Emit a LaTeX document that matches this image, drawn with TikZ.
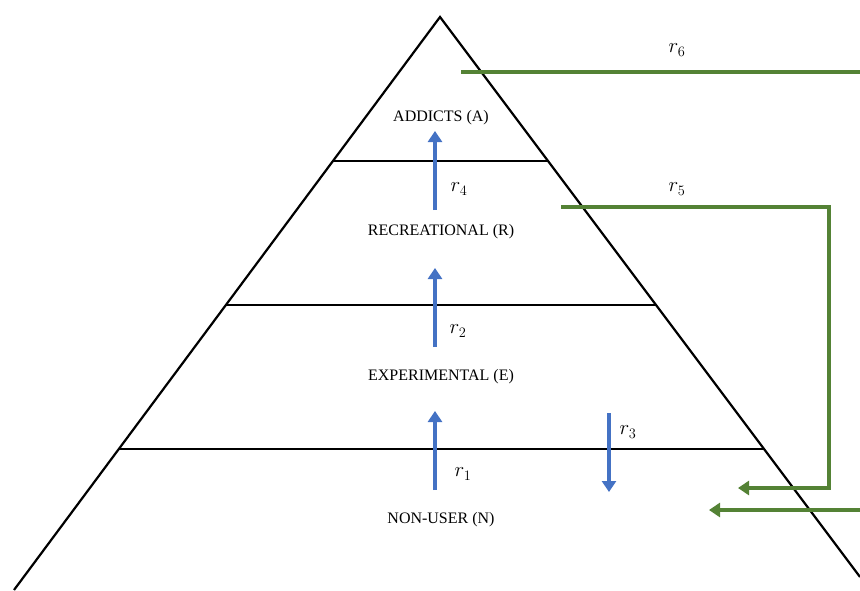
\documentclass[tikz,border=0pt]{standalone}
\usepackage{fontspec}
\setmainfont{Liberation Serif}
\usetikzlibrary{arrows.meta,calc}
\definecolor{flowblue}{HTML}{4472C4}
\definecolor{flowgreen}{HTML}{548235}

\begin{document}
\begin{tikzpicture}[x=1pt, y=-1pt, >={Triangle[width=14pt,length=11pt]}]
\tikzstyle{level}=[inner sep=0pt, font=\fontsize{16}{18}\selectfont]
\tikzstyle{rate}=[inner sep=0pt, font=\fontsize{22}{24}\selectfont]
\tikzstyle{edge}=[line width=2.2pt, black]
\tikzstyle{up}=[->, line width=4.2pt, flowblue]
\tikzstyle{back}=[line width=3.8pt, flowgreen]
\useasboundingbox (0,0) rectangle (860,590);

% Pyramid outline and levels
\coordinate (top) at (440,17);
\coordinate (bl) at (14,590);
\coordinate (br) at (860,577);
\draw[edge] (bl) -- (top) -- (br);
\draw[edge] (333,161) -- (549,161);
\draw[edge] (226,305) -- (657,305);
\draw[edge] (118,449) -- (764,449);

% Level names
\node[level] (a) at (441,118) {ADDICTS (A)};
\node[level] (r) at (441,232) {RECREATIONAL (R)};
\node[level] (e) at (441,377) {EXPERIMENTAL (E)};
\node[level] (n) at (441,520) {NON-USER (N)};

% Upward and downward moves
\coordinate (n1) at (435,490); \coordinate (e1) at (435,411);
\coordinate (e2) at (435,347); \coordinate (r2) at (435,268);
\coordinate (r3) at (435,210); \coordinate (a3) at (435,131);
\coordinate (e4) at (609,413); \coordinate (n4) at (609,492);
\draw[up] (n1) -- (e1);
\draw[up] (e2) -- (r2);
\draw[up] (r3) -- (a3);
\draw[up] (e4) -- (n4);
\node[rate] (l1) at (463,474) {$r_1$};
\node[rate] (l2) at (458,331) {$r_2$};
\node[rate] (l4) at (459,189) {$r_4$};
\node[rate] (l3) at (628,432) {$r_3$};

% Returns to non-users
\coordinate (a5) at (461,72);
\coordinate (out6) at (860,72);
\coordinate (in6) at (860,510);
\coordinate (n6) at (709,510);
\draw[back] (a5) -- (out6);
\draw[back, ->] (in6) -- (n6);
\coordinate (r5) at (561,207);
\coordinate (n5) at (738,488);
\draw[back, ->] (r5) -| (829,488) -- (n5);
\node[rate] (l5) at (677,189) {$r_5$};
\node[rate] (l6) at (677,50) {$r_6$};
\end{tikzpicture}
\end{document}
